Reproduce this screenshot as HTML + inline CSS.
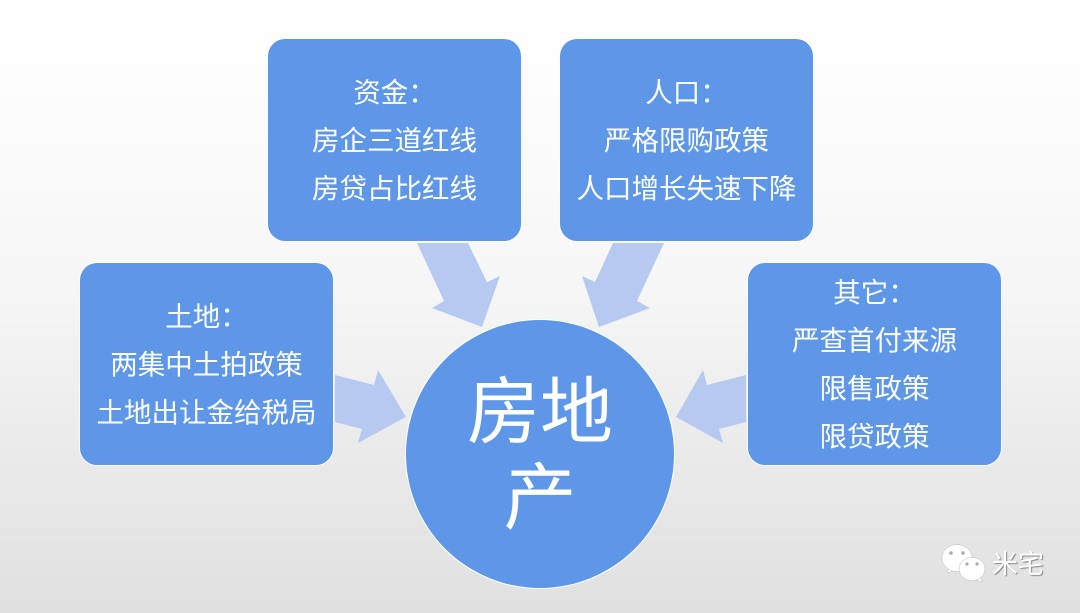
<!DOCTYPE html>
<html lang="zh"><head><meta charset="utf-8"><style>
html,body{margin:0;padding:0}
body{width:1080px;height:613px;overflow:hidden;position:relative;background:linear-gradient(#fff 0,#fcfcfc 20%,#f6f6f6 47%,#ebebeb 72%,#e0e0e0 100%);font-family:"Liberation Sans","Noto Sans CJK SC",sans-serif}
svg{position:absolute;left:0;top:0}
.b{position:absolute;width:253px;height:202px;box-sizing:border-box;background:#5e97e8;border-radius:17px;box-shadow:0 0 0 1px rgba(255,255,255,.8);color:#fff;font-size:27.5px;line-height:48px;text-align:center;display:flex;flex-direction:column;justify-content:center;white-space:nowrap;padding-top:2.5px}
.c{position:absolute;left:406px;top:319.5px;width:268px;height:268px;border-radius:50%;background:#5e97e8;box-shadow:0 0 0 1px #fff}
.t{position:absolute;left:440px;top:370px;width:200px;color:#fff;font-size:73px;line-height:86px;text-align:center}
.w{position:absolute;left:992px;top:548px;color:#fff;font-size:26px;line-height:32px;text-shadow:1px 1px 1px #888}
</style></head><body>
<svg width="1080" height="613" viewBox="0 0 1080 613">
<g fill="#b6caf1">
<polygon points="417,243 468,243 487,282 500,276 482,327 432,308 444,301"/>
<polygon points="613,243 664,243 637,301 650,308 599,327 582,276 595,282"/>
<polygon points="335,375 374,385 378,370 406,417 358,443 362,429 335,422"/>
<polygon points="746,375 707,385 703,370 676,417 723,443 719,429 746,422"/>
</g>
<g fill="#fff" stroke="#bbb" stroke-width=".5">
<path d="M948 565l0 8 9-4z"/><ellipse cx="957" cy="558" rx="15" ry="13.5"/>
<path d="M980 576l2 6-9-3z"/><ellipse cx="972" cy="569" rx="13" ry="11.5"/>
</g>
<g fill="#aaa"><circle cx="951" cy="553" r="1.8"/><circle cx="963" cy="553" r="1.8"/><circle cx="967" cy="564" r="1.6"/><circle cx="977" cy="564" r="1.6"/></g>
</svg>
<div class="b" style="left:268px;top:39px"><div>资金：</div><div>房企三道红线</div><div>房贷占比红线</div></div>
<div class="b" style="left:560px;top:39px"><div>人口：</div><div>严格限购政策</div><div>人口增长失速下降</div></div>
<div class="b" style="left:80px;top:263px"><div>土地：</div><div>两集中土拍政策</div><div>土地出让金给税局</div></div>
<div class="b" style="left:748px;top:263px;padding-top:1px"><div>其它：</div><div>严查首付来源</div><div>限售政策</div><div>限贷政策</div></div>
<div class="c"></div>
<div class="t">房地<br>产</div>
<div class="w">米宅</div>
</body></html>
